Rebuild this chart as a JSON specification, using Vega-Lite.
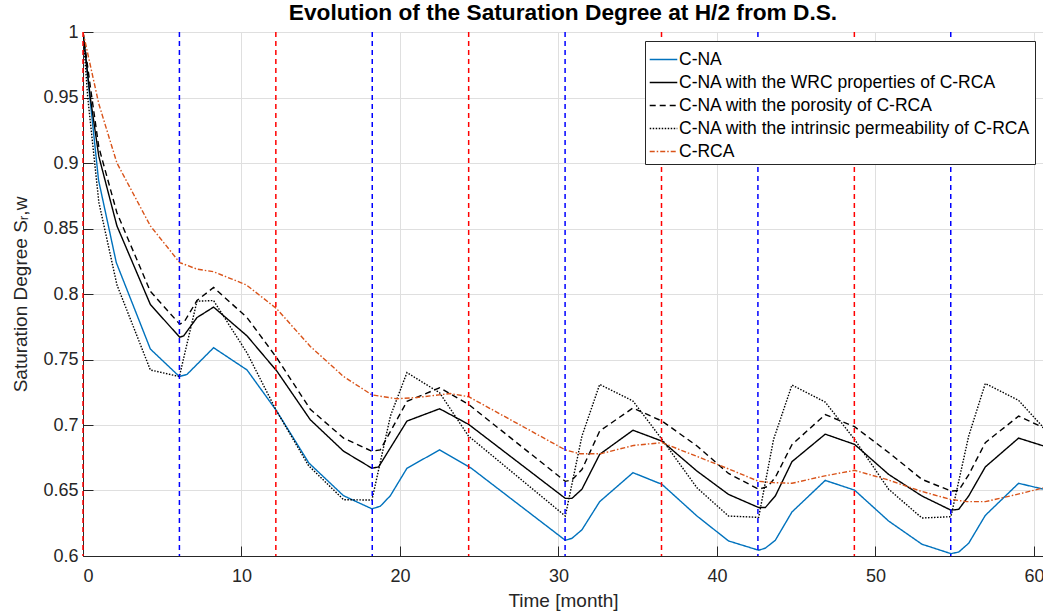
{
  "$schema": "https://vega.github.io/schema/vega-lite/v6.json",
  "width": 960,
  "height": 524,
  "autosize": {"type": "none"},
  "padding": {"left": 83, "top": 32, "right": 0, "bottom": 60},
  "background": "white",
  "title": {"text": "Evolution of the Saturation Degree at H/2 from D.S.", "font": "Liberation Sans", "fontSize": 22.7, "fontWeight": "bold", "color": "#000000", "anchor": "middle", "offset": -2},
  "config": {
    "view": {"stroke": null},
    "axis": {"domainColor": "#262626", "tickColor": "#262626", "labelColor": "#262626", "titleColor": "#262626", "gridColor": "#dfdfdf", "gridOpacity": 1, "labelFont": "Liberation Sans", "titleFont": "Liberation Sans", "labelFontSize": 18, "titleFontSize": 19, "titleFontWeight": "normal", "tickSize": -10, "labelPadding": 15, "domainWidth": 1, "tickWidth": 1}
  },
  "datasets": {
    "curves": [
      {"s": "C-NA", "t": 0, "v": 1.0},
      {"s": "C-NA", "t": 0.98, "v": 0.887},
      {"s": "C-NA", "t": 2.1, "v": 0.824},
      {"s": "C-NA", "t": 4.25, "v": 0.758},
      {"s": "C-NA", "t": 6.08, "v": 0.737},
      {"s": "C-NA", "t": 6.56, "v": 0.7386},
      {"s": "C-NA", "t": 8.24, "v": 0.759},
      {"s": "C-NA", "t": 10.35, "v": 0.742},
      {"s": "C-NA", "t": 12.2, "v": 0.711},
      {"s": "C-NA", "t": 14.25, "v": 0.671},
      {"s": "C-NA", "t": 16.44, "v": 0.646},
      {"s": "C-NA", "t": 18.23, "v": 0.636},
      {"s": "C-NA", "t": 18.76, "v": 0.638},
      {"s": "C-NA", "t": 19.39, "v": 0.646},
      {"s": "C-NA", "t": 20.44, "v": 0.667},
      {"s": "C-NA", "t": 22.5, "v": 0.681},
      {"s": "C-NA", "t": 24.5, "v": 0.667},
      {"s": "C-NA", "t": 30.43, "v": 0.612},
      {"s": "C-NA", "t": 30.85, "v": 0.6135},
      {"s": "C-NA", "t": 31.48, "v": 0.62},
      {"s": "C-NA", "t": 32.6, "v": 0.6415},
      {"s": "C-NA", "t": 34.7, "v": 0.6636},
      {"s": "C-NA", "t": 36.53, "v": 0.6547},
      {"s": "C-NA", "t": 38.74, "v": 0.6305},
      {"s": "C-NA", "t": 40.73, "v": 0.6115},
      {"s": "C-NA", "t": 42.63, "v": 0.6044},
      {"s": "C-NA", "t": 43.05, "v": 0.606},
      {"s": "C-NA", "t": 43.68, "v": 0.612},
      {"s": "C-NA", "t": 44.73, "v": 0.6336},
      {"s": "C-NA", "t": 46.83, "v": 0.6577},
      {"s": "C-NA", "t": 48.68, "v": 0.6503},
      {"s": "C-NA", "t": 50.83, "v": 0.6267},
      {"s": "C-NA", "t": 52.93, "v": 0.609},
      {"s": "C-NA", "t": 54.76, "v": 0.6018},
      {"s": "C-NA", "t": 55.25, "v": 0.603},
      {"s": "C-NA", "t": 55.88, "v": 0.6097},
      {"s": "C-NA", "t": 56.93, "v": 0.631},
      {"s": "C-NA", "t": 59.03, "v": 0.6555},
      {"s": "C-NA", "t": 60.6, "v": 0.651},

      {"s": "C-NA with the WRC properties of C-RCA", "t": 0, "v": 1.0},
      {"s": "C-NA with the WRC properties of C-RCA", "t": 0.46, "v": 0.95},
      {"s": "C-NA with the WRC properties of C-RCA", "t": 1.0, "v": 0.905},
      {"s": "C-NA with the WRC properties of C-RCA", "t": 2.14, "v": 0.852},
      {"s": "C-NA with the WRC properties of C-RCA", "t": 4.25, "v": 0.792},
      {"s": "C-NA with the WRC properties of C-RCA", "t": 6.1, "v": 0.767},
      {"s": "C-NA with the WRC properties of C-RCA", "t": 6.35, "v": 0.768},
      {"s": "C-NA with the WRC properties of C-RCA", "t": 7.19, "v": 0.782},
      {"s": "C-NA with the WRC properties of C-RCA", "t": 8.24, "v": 0.79},
      {"s": "C-NA with the WRC properties of C-RCA", "t": 10.35, "v": 0.768},
      {"s": "C-NA with the WRC properties of C-RCA", "t": 12.24, "v": 0.741},
      {"s": "C-NA with the WRC properties of C-RCA", "t": 14.34, "v": 0.704},
      {"s": "C-NA with the WRC properties of C-RCA", "t": 16.44, "v": 0.68},
      {"s": "C-NA with the WRC properties of C-RCA", "t": 18.23, "v": 0.667},
      {"s": "C-NA with the WRC properties of C-RCA", "t": 18.65, "v": 0.668},
      {"s": "C-NA with the WRC properties of C-RCA", "t": 20.44, "v": 0.703},
      {"s": "C-NA with the WRC properties of C-RCA", "t": 22.5, "v": 0.7124},
      {"s": "C-NA with the WRC properties of C-RCA", "t": 24.33, "v": 0.7005},
      {"s": "C-NA with the WRC properties of C-RCA", "t": 30.43, "v": 0.644},
      {"s": "C-NA with the WRC properties of C-RCA", "t": 30.85, "v": 0.644},
      {"s": "C-NA with the WRC properties of C-RCA", "t": 31.48, "v": 0.651},
      {"s": "C-NA with the WRC properties of C-RCA", "t": 32.6, "v": 0.6776},
      {"s": "C-NA with the WRC properties of C-RCA", "t": 34.7, "v": 0.696},
      {"s": "C-NA with the WRC properties of C-RCA", "t": 36.53, "v": 0.6877},
      {"s": "C-NA with the WRC properties of C-RCA", "t": 38.74, "v": 0.6648},
      {"s": "C-NA with the WRC properties of C-RCA", "t": 40.73, "v": 0.647},
      {"s": "C-NA with the WRC properties of C-RCA", "t": 42.63, "v": 0.637},
      {"s": "C-NA with the WRC properties of C-RCA", "t": 43.05, "v": 0.637},
      {"s": "C-NA with the WRC properties of C-RCA", "t": 43.68, "v": 0.6458},
      {"s": "C-NA with the WRC properties of C-RCA", "t": 44.73, "v": 0.672},
      {"s": "C-NA with the WRC properties of C-RCA", "t": 46.83, "v": 0.693},
      {"s": "C-NA with the WRC properties of C-RCA", "t": 48.68, "v": 0.6852},
      {"s": "C-NA with the WRC properties of C-RCA", "t": 50.83, "v": 0.6623},
      {"s": "C-NA with the WRC properties of C-RCA", "t": 52.93, "v": 0.6458},
      {"s": "C-NA with the WRC properties of C-RCA", "t": 54.76, "v": 0.635},
      {"s": "C-NA with the WRC properties of C-RCA", "t": 55.25, "v": 0.6356},
      {"s": "C-NA with the WRC properties of C-RCA", "t": 55.88, "v": 0.6458},
      {"s": "C-NA with the WRC properties of C-RCA", "t": 56.93, "v": 0.668},
      {"s": "C-NA with the WRC properties of C-RCA", "t": 59.03, "v": 0.69},
      {"s": "C-NA with the WRC properties of C-RCA", "t": 60.6, "v": 0.684},

      {"s": "C-NA with the porosity of C-RCA", "t": 0, "v": 1.0},
      {"s": "C-NA with the porosity of C-RCA", "t": 0.5, "v": 0.955},
      {"s": "C-NA with the porosity of C-RCA", "t": 1.0, "v": 0.912},
      {"s": "C-NA with the porosity of C-RCA", "t": 2.14, "v": 0.862},
      {"s": "C-NA with the porosity of C-RCA", "t": 4.25, "v": 0.802},
      {"s": "C-NA with the porosity of C-RCA", "t": 6.1, "v": 0.777},
      {"s": "C-NA with the porosity of C-RCA", "t": 6.4, "v": 0.779},
      {"s": "C-NA with the porosity of C-RCA", "t": 7.19, "v": 0.795},
      {"s": "C-NA with the porosity of C-RCA", "t": 8.24, "v": 0.805},
      {"s": "C-NA with the porosity of C-RCA", "t": 10.35, "v": 0.782},
      {"s": "C-NA with the porosity of C-RCA", "t": 12.24, "v": 0.751},
      {"s": "C-NA with the porosity of C-RCA", "t": 14.34, "v": 0.712},
      {"s": "C-NA with the porosity of C-RCA", "t": 16.44, "v": 0.69},
      {"s": "C-NA with the porosity of C-RCA", "t": 18.23, "v": 0.68},
      {"s": "C-NA with the porosity of C-RCA", "t": 18.76, "v": 0.681},
      {"s": "C-NA with the porosity of C-RCA", "t": 20.44, "v": 0.718},
      {"s": "C-NA with the porosity of C-RCA", "t": 22.5, "v": 0.7284},
      {"s": "C-NA with the porosity of C-RCA", "t": 24.33, "v": 0.7157},
      {"s": "C-NA with the porosity of C-RCA", "t": 30.43, "v": 0.657},
      {"s": "C-NA with the porosity of C-RCA", "t": 30.85, "v": 0.658},
      {"s": "C-NA with the porosity of C-RCA", "t": 31.48, "v": 0.666},
      {"s": "C-NA with the porosity of C-RCA", "t": 32.6, "v": 0.6954},
      {"s": "C-NA with the porosity of C-RCA", "t": 34.7, "v": 0.713},
      {"s": "C-NA with the porosity of C-RCA", "t": 36.53, "v": 0.703},
      {"s": "C-NA with the porosity of C-RCA", "t": 38.74, "v": 0.684},
      {"s": "C-NA with the porosity of C-RCA", "t": 40.73, "v": 0.663},
      {"s": "C-NA with the porosity of C-RCA", "t": 42.63, "v": 0.651},
      {"s": "C-NA with the porosity of C-RCA", "t": 43.2, "v": 0.653},
      {"s": "C-NA with the porosity of C-RCA", "t": 43.68, "v": 0.66},
      {"s": "C-NA with the porosity of C-RCA", "t": 44.73, "v": 0.685},
      {"s": "C-NA with the porosity of C-RCA", "t": 46.83, "v": 0.708},
      {"s": "C-NA with the porosity of C-RCA", "t": 48.68, "v": 0.6987},
      {"s": "C-NA with the porosity of C-RCA", "t": 50.83, "v": 0.679},
      {"s": "C-NA with the porosity of C-RCA", "t": 52.93, "v": 0.6585},
      {"s": "C-NA with the porosity of C-RCA", "t": 54.76, "v": 0.6496},
      {"s": "C-NA with the porosity of C-RCA", "t": 55.25, "v": 0.65},
      {"s": "C-NA with the porosity of C-RCA", "t": 55.88, "v": 0.662},
      {"s": "C-NA with the porosity of C-RCA", "t": 56.93, "v": 0.6865},
      {"s": "C-NA with the porosity of C-RCA", "t": 59.03, "v": 0.7068},
      {"s": "C-NA with the porosity of C-RCA", "t": 60.6, "v": 0.698},

      {"s": "C-NA with the intrinsic permeability of C-RCA", "t": 0, "v": 1.0},
      {"s": "C-NA with the intrinsic permeability of C-RCA", "t": 0.3, "v": 0.95},
      {"s": "C-NA with the intrinsic permeability of C-RCA", "t": 1.0, "v": 0.87},
      {"s": "C-NA with the intrinsic permeability of C-RCA", "t": 2.14, "v": 0.807},
      {"s": "C-NA with the intrinsic permeability of C-RCA", "t": 4.25, "v": 0.742},
      {"s": "C-NA with the intrinsic permeability of C-RCA", "t": 6.08, "v": 0.737},
      {"s": "C-NA with the intrinsic permeability of C-RCA", "t": 7.19, "v": 0.7945},
      {"s": "C-NA with the intrinsic permeability of C-RCA", "t": 8.24, "v": 0.795},
      {"s": "C-NA with the intrinsic permeability of C-RCA", "t": 10.35, "v": 0.755},
      {"s": "C-NA with the intrinsic permeability of C-RCA", "t": 12.2, "v": 0.711},
      {"s": "C-NA with the intrinsic permeability of C-RCA", "t": 14.23, "v": 0.669},
      {"s": "C-NA with the intrinsic permeability of C-RCA", "t": 16.44, "v": 0.643},
      {"s": "C-NA with the intrinsic permeability of C-RCA", "t": 18.23, "v": 0.6427},
      {"s": "C-NA with the intrinsic permeability of C-RCA", "t": 19.4, "v": 0.707},
      {"s": "C-NA with the intrinsic permeability of C-RCA", "t": 20.44, "v": 0.74},
      {"s": "C-NA with the intrinsic permeability of C-RCA", "t": 22.5, "v": 0.7246},
      {"s": "C-NA with the intrinsic permeability of C-RCA", "t": 24.33, "v": 0.6915},
      {"s": "C-NA with the intrinsic permeability of C-RCA", "t": 30.43, "v": 0.6305},
      {"s": "C-NA with the intrinsic permeability of C-RCA", "t": 31.48, "v": 0.6915},
      {"s": "C-NA with the intrinsic permeability of C-RCA", "t": 32.6, "v": 0.731},
      {"s": "C-NA with the intrinsic permeability of C-RCA", "t": 34.7, "v": 0.7183},
      {"s": "C-NA with the intrinsic permeability of C-RCA", "t": 36.53, "v": 0.689},
      {"s": "C-NA with the intrinsic permeability of C-RCA", "t": 38.74, "v": 0.652},
      {"s": "C-NA with the intrinsic permeability of C-RCA", "t": 40.73, "v": 0.6305},
      {"s": "C-NA with the intrinsic permeability of C-RCA", "t": 42.63, "v": 0.6295},
      {"s": "C-NA with the intrinsic permeability of C-RCA", "t": 43.57, "v": 0.689},
      {"s": "C-NA with the intrinsic permeability of C-RCA", "t": 44.73, "v": 0.7305},
      {"s": "C-NA with the intrinsic permeability of C-RCA", "t": 46.83, "v": 0.7175},
      {"s": "C-NA with the intrinsic permeability of C-RCA", "t": 48.68, "v": 0.689},
      {"s": "C-NA with the intrinsic permeability of C-RCA", "t": 50.83, "v": 0.651},
      {"s": "C-NA with the intrinsic permeability of C-RCA", "t": 52.93, "v": 0.629},
      {"s": "C-NA with the intrinsic permeability of C-RCA", "t": 54.76, "v": 0.63},
      {"s": "C-NA with the intrinsic permeability of C-RCA", "t": 55.88, "v": 0.6915},
      {"s": "C-NA with the intrinsic permeability of C-RCA", "t": 56.93, "v": 0.7317},
      {"s": "C-NA with the intrinsic permeability of C-RCA", "t": 59.03, "v": 0.7188},
      {"s": "C-NA with the intrinsic permeability of C-RCA", "t": 60.6, "v": 0.698},

      {"s": "C-RCA", "t": 0, "v": 1.0},
      {"s": "C-RCA", "t": 1.0, "v": 0.945},
      {"s": "C-RCA", "t": 2.14, "v": 0.9},
      {"s": "C-RCA", "t": 4.25, "v": 0.852},
      {"s": "C-RCA", "t": 6.1, "v": 0.824},
      {"s": "C-RCA", "t": 7.19, "v": 0.819},
      {"s": "C-RCA", "t": 8.24, "v": 0.817},
      {"s": "C-RCA", "t": 10.3, "v": 0.807},
      {"s": "C-RCA", "t": 12.2, "v": 0.789},
      {"s": "C-RCA", "t": 14.34, "v": 0.76},
      {"s": "C-RCA", "t": 16.44, "v": 0.737},
      {"s": "C-RCA", "t": 18.23, "v": 0.723},
      {"s": "C-RCA", "t": 19.8, "v": 0.72},
      {"s": "C-RCA", "t": 21.07, "v": 0.721},
      {"s": "C-RCA", "t": 23.17, "v": 0.724},
      {"s": "C-RCA", "t": 24.33, "v": 0.7216},
      {"s": "C-RCA", "t": 30.43, "v": 0.681},
      {"s": "C-RCA", "t": 31.37, "v": 0.678},
      {"s": "C-RCA", "t": 32.64, "v": 0.678},
      {"s": "C-RCA", "t": 34.74, "v": 0.6844},
      {"s": "C-RCA", "t": 36.53, "v": 0.6865},
      {"s": "C-RCA", "t": 38.74, "v": 0.676},
      {"s": "C-RCA", "t": 40.63, "v": 0.667},
      {"s": "C-RCA", "t": 42.63, "v": 0.657},
      {"s": "C-RCA", "t": 43.57, "v": 0.656},
      {"s": "C-RCA", "t": 44.73, "v": 0.6555},
      {"s": "C-RCA", "t": 46.73, "v": 0.661},
      {"s": "C-RCA", "t": 48.68, "v": 0.6654},
      {"s": "C-RCA", "t": 50.7, "v": 0.6585},
      {"s": "C-RCA", "t": 52.83, "v": 0.6496},
      {"s": "C-RCA", "t": 54.73, "v": 0.6432},
      {"s": "C-RCA", "t": 55.77, "v": 0.6415},
      {"s": "C-RCA", "t": 56.93, "v": 0.6415},
      {"s": "C-RCA", "t": 58.93, "v": 0.647},
      {"s": "C-RCA", "t": 60.6, "v": 0.652}
    ],
    "blueLines": [{"t": 6.083}, {"t": 18.25}, {"t": 30.417}, {"t": 42.583}, {"t": 54.75}],
    "redLines": [{"t": 0}, {"t": 12.167}, {"t": 24.333}, {"t": 36.5}, {"t": 48.667}]
  },
  "layer": [
    {
      "data": {"name": "curves"},
      "mark": {"type": "line", "strokeWidth": 1.4, "clip": true},
      "encoding": {
        "x": {"field": "t", "type": "quantitative", "scale": {"domain": [0, 60.57], "nice": false, "zero": false},
              "axis": {"values": [0, 10, 20, 30, 40, 50, 60], "format": "d", "title": "Time [month]", "titlePadding": 6, "labelPadding": 21, "grid": true}},
        "y": {"field": "v", "type": "quantitative", "scale": {"domain": [0.6, 1], "nice": false, "zero": false},
              "axis": {"values": [0.6, 0.65, 0.7, 0.75, 0.8, 0.85, 0.9, 0.95, 1], "format": ".2~f", "title": "Saturation Degree Sᵣ,w", "titlePadding": 12, "grid": true}},
        "color": {"field": "s", "type": "nominal",
                  "scale": {"domain": ["C-NA", "C-NA with the WRC properties of C-RCA", "C-NA with the porosity of C-RCA", "C-NA with the intrinsic permeability of C-RCA", "C-RCA"],
                            "range": ["#0072BD", "#000000", "#000000", "#000000", "#D95319"]},
                  "legend": {"title": null, "orient": "none", "legendX": 562, "legendY": 9, "symbolType": "stroke", "symbolSize": 760, "symbolStrokeWidth": 1.3, "labelFont": "Liberation Sans", "labelFontSize": 17.5, "labelColor": "#000000", "labelLimit": 500, "labelOffset": 1, "fillColor": "white", "strokeColor": "#262626", "padding": 4, "rowPadding": 0}},
        "strokeDash": {"field": "s", "type": "nominal",
                  "scale": {"domain": ["C-NA", "C-NA with the WRC properties of C-RCA", "C-NA with the porosity of C-RCA", "C-NA with the intrinsic permeability of C-RCA", "C-RCA"],
                            "range": [[1, 0], [1, 0], [6, 4], [1.5, 1.5], [5, 2, 1.5, 2]]}}
      }
    },
    {
      "data": {"name": "blueLines"},
      "mark": {"type": "rule", "color": "#0000ff", "strokeWidth": 1.5, "strokeDash": [5, 4]},
      "encoding": {"x": {"field": "t", "type": "quantitative"}}
    },
    {
      "data": {"name": "redLines"},
      "mark": {"type": "rule", "color": "#ff0000", "strokeWidth": 1.5, "strokeDash": [5, 4]},
      "encoding": {"x": {"field": "t", "type": "quantitative"}}
    }
  ]
}
